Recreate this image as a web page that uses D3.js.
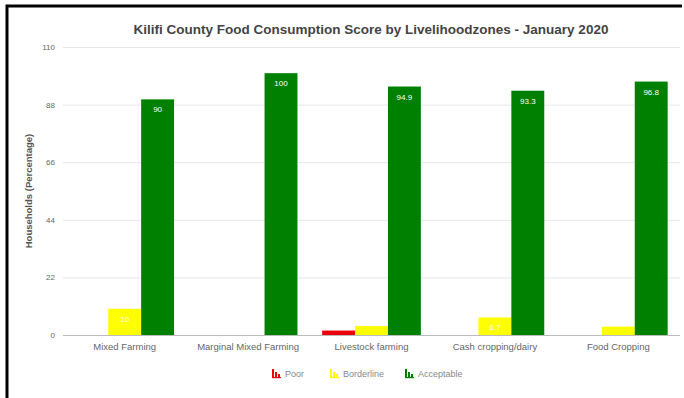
<!DOCTYPE html>
<html>
<head>
<meta charset="utf-8">
<script src="https://cdn.jsdelivr.net/npm/d3@7"></script>
<style>
  html, body { margin: 0; padding: 0; background: #fff; }
  svg { display: block; font-family: "Liberation Sans", Arial, sans-serif; }
</style>
</head>
<body>
<svg id="chart" width="684" height="398"></svg>
<script>
// Food consumption score groups per livelihood zone (% of households)
const zones = ["Mixed Farming", "Marginal Mixed Farming", "Livestock farming", "Cash cropping/dairy", "Food Cropping"];
const seriesNames = ["Poor", "Borderline", "Acceptable"];
const poor = [0, 0, 1.7, 0, 0];
const borderline = [10, 0, 3.4, 6.7, 3.2];
const acceptable = [90, 100, 94.9, 93.3, 96.8];
const yTicks = [0, 22, 44, 66, 88, 110];
const seriesColors = ["#e8000b", "#ffff00", "#008000"];
const chartTitle = "Kilifi County Food Consumption Score by Livelihoodzones - January 2020";
const yTitle = "Households (Percentage)";

const svg = d3.select("#chart");
const W = 684, H = 398;
const plot = { left: 63, right: 680, top: 47, bottom: 335 };

// outer frame (top and left edges)
svg.append("path")
  .attr("d", `M7,${H} V6 H682`)
  .attr("fill", "none").attr("stroke", "#000").attr("stroke-width", 3);

const x0 = d3.scaleBand().domain(zones).range([plot.left, plot.right]).paddingInner(0.2).paddingOuter(0.1);
const x1 = d3.scaleBand().domain(seriesNames).range([0, x0.bandwidth()]);
const y = d3.scaleLinear().domain([0, 110]).range([plot.bottom, plot.top]);

// gridlines
svg.append("g").selectAll("line").data(yTicks.filter(t => t > 0)).join("line")
  .attr("x1", plot.left).attr("x2", plot.right)
  .attr("y1", d => y(d) + 0.5).attr("y2", d => y(d) + 0.5)
  .attr("stroke", "#e6e6e6").attr("stroke-width", 1);

// y axis tick labels
const yAxis = d3.axisLeft(y).tickValues(yTicks).tickSize(0).tickPadding(8);
const gy = svg.append("g").attr("transform", `translate(${plot.left},0)`).call(yAxis);
gy.select(".domain").remove();
gy.selectAll("text").attr("font-size", 8).attr("fill", "#666").attr("font-family", "Liberation Sans, Arial, sans-serif");

// bars
const rows = zones.map((z, i) => ({ zone: z, values: [poor[i], borderline[i], acceptable[i]] }));
const groups = svg.append("g").selectAll("g").data(rows).join("g")
  .attr("transform", d => `translate(${x0(d.zone)},0)`);

groups.selectAll("rect").data(d => d.values.map((v, k) => ({ v, k }))).join("rect")
  .attr("x", d => x1(seriesNames[d.k]))
  .attr("width", x1.bandwidth())
  .attr("y", d => y(d.v))
  .attr("height", d => y(0) - y(d.v))
  .attr("fill", d => seriesColors[d.k]);

// value labels inside bars that are tall enough
groups.selectAll("text").data(d => d.values.map((v, k) => ({ v, k })).filter(d => y(0) - y(d.v) > 14)).join("text")
  .attr("x", d => x1(seriesNames[d.k]) + x1.bandwidth() / 2)
  .attr("y", d => y(d.v) + 13)
  .attr("text-anchor", "middle")
  .attr("font-size", 8)
  .attr("fill", "#fff")
  .text(d => d.v);

// x axis baseline and category labels
svg.append("line")
  .attr("x1", plot.left).attr("x2", plot.right)
  .attr("y1", plot.bottom + 0.5).attr("y2", plot.bottom + 0.5)
  .attr("stroke", "#bbb").attr("stroke-width", 1);

const xAxis = d3.axisBottom(x0).tickSize(0).tickPadding(8);
const gx = svg.append("g").attr("transform", `translate(0,${plot.bottom})`).call(xAxis);
gx.select(".domain").remove();
gx.selectAll("text").attr("font-size", 9.5).attr("fill", "#666").attr("font-family", "Liberation Sans, Arial, sans-serif");

// title
svg.append("text")
  .attr("x", 371).attr("y", 34)
  .attr("text-anchor", "middle")
  .attr("font-size", 13.5).attr("font-weight", "bold").attr("fill", "#444")
  .text(chartTitle);

// y axis title
svg.append("text")
  .attr("transform", "translate(32,191) rotate(-90)")
  .attr("text-anchor", "middle")
  .attr("font-size", 9.5).attr("font-weight", "bold").attr("fill", "#555")
  .text(yTitle);

// legend with small bar-chart glyphs
const legendX = [272, 330, 405];
const leg = svg.append("g").selectAll("g").data(seriesNames).join("g")
  .attr("transform", (d, i) => `translate(${legendX[i]},373)`);
leg.each(function (d, i) {
  const g = d3.select(this);
  [[0, 8], [3, 5], [6, 3]].forEach(([dx, h]) => {
    g.append("rect").attr("x", dx).attr("y", 4 - h).attr("width", 2).attr("height", h)
      .attr("fill", seriesColors[i]);
  });
  g.append("rect").attr("x", 0).attr("y", 4).attr("width", 9).attr("height", 1.2).attr("fill", seriesColors[i]);
});
leg.append("text")
  .attr("x", 13).attr("y", 3.5)
  .attr("font-size", 9).attr("fill", "#888")
  .text(d => d);
</script>
</body>
</html>
